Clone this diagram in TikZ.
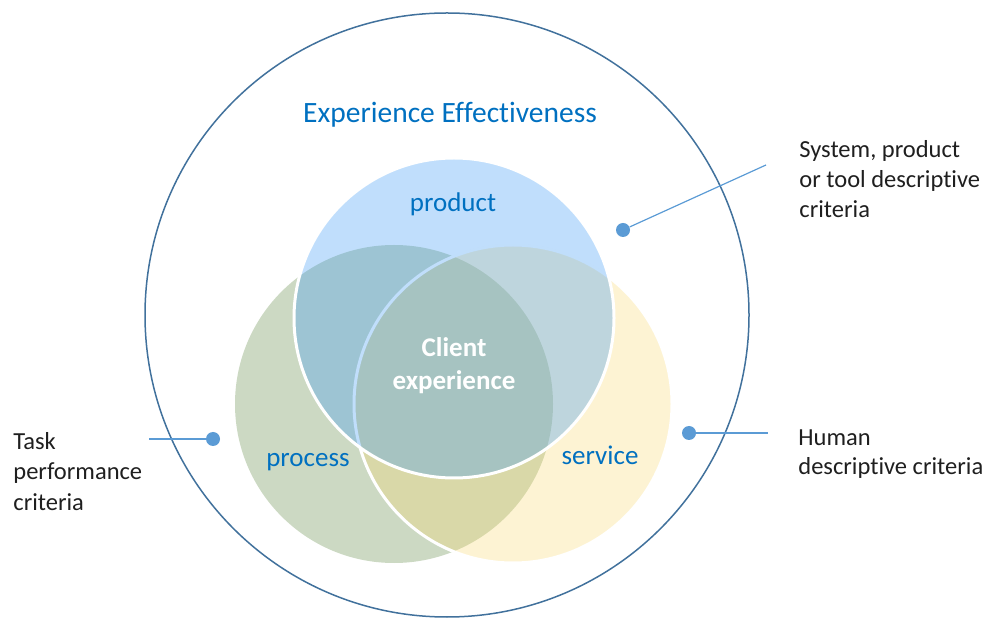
\documentclass[tikz,border=0pt]{standalone}
\usepackage{fontspec}
\setmainfont{Carlito}[Ligatures={NoCommon}]
\definecolor{ringblue}{RGB}{65,113,156}
\definecolor{linkblue}{RGB}{91,155,213}
\definecolor{labelblue}{RGB}{0,112,192}
\definecolor{prodfill}{RGB}{64,155,245}
\definecolor{procfill}{RGB}{204,217,195}
\definecolor{servfill}{RGB}{248,215,108}
\begin{document}
\begin{tikzpicture}[x=0.5pt,y=-0.5pt,
        vset/.style={circle,inner sep=0pt,minimum size=#1},
        dot/.style={circle,fill=linkblue,inner sep=0pt,minimum size=7pt},
        link/.style={draw=linkblue,line width=0.6pt},
        setname/.style={text=labelblue,font=\fontsize{13.5}{16}\selectfont},
        desc/.style={text=black!88,align=left,inner sep=0pt,font=\fontsize{12.25}{15}\selectfont}]
        \useasboundingbox (0,0) rectangle (990,619);
        \node[vset=302pt,draw=ringblue,line width=0.75pt] (ring) at (447,315) {};
        \node[vset=159pt,fill=procfill] (process) at (394,404) {};
        \node[vset=159pt,fill=servfill,fill opacity=0.3,draw=white,line width=1.5pt] (service) at (513,404) {};
        \node[vset=160pt,fill=prodfill,fill opacity=0.33,draw=white,line width=1.5pt] (product) at (454,318) {};
        \node[text=labelblue,anchor=base,inner sep=0pt,font=\fontsize{14.75}{17}\selectfont] (title) at (450,123) {Experience Effectiveness};
        \node[setname,anchor=base,inner sep=0pt] (prodname) at (453,212) {product};
        \node[setname,anchor=base,inner sep=0pt] (procname) at (308,467) {process};
        \node[setname,anchor=base,inner sep=0pt] (servname) at (600,465) {service};
        \node[text=white,align=center,anchor=base,inner sep=0pt,font=\bfseries\fontsize{13.5}{16.5}\selectfont] (client) at (454,390) {Client\\experience};
        \node[dot] (taskdot) at (213,439) {};
        \node[dot] (tooldot) at (623,230) {};
        \node[dot] (humandot) at (689,433) {};
        \coordinate (taskend) at (149,439);
        \coordinate (toolend) at (766,165);
        \coordinate (humanend) at (768,433);
        \draw[link] (taskend) -- (taskdot);
        \draw[link] (tooldot) -- (toolend);
        \draw[link] (humandot) -- (humanend);
        \node[desc,anchor=base west] (task) at (13,510) {Task\\performance\\criteria};
        \node[desc,anchor=base west] (tool) at (799,218) {System, product\\or tool descriptive\\criteria};
        \node[desc,anchor=base west,font=\fontsize{12.25}{14.5}\selectfont] (human) at (798,475) {Human\\descriptive criteria};
\end{tikzpicture}
\end{document}
